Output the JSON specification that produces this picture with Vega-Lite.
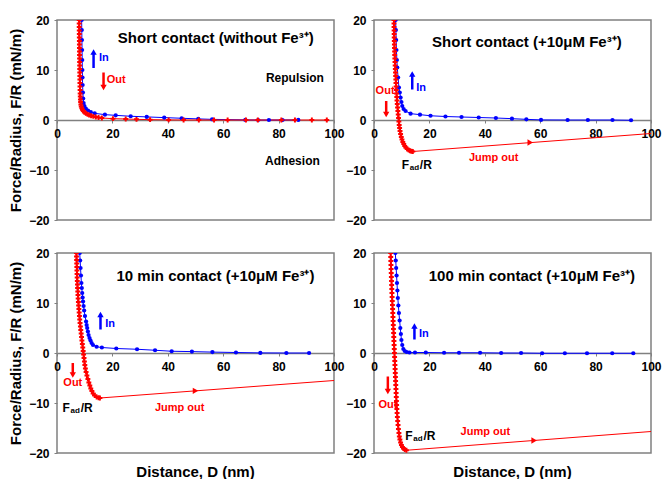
{
"$schema": "https://vega.github.io/schema/vega-lite/v6.json",
"padding": {"left": 7, "top": 13, "right": 2, "bottom": 0},
"background": "white",
"config": {
  "font": "Liberation Sans",
  "view": {"stroke": "#808080", "strokeWidth": 1.5},
  "text": {"font": "Liberation Sans", "fontWeight": "bold", "align": "center", "baseline": "middle"},
  "axis": {"labelFont": "Liberation Sans", "labelFontWeight": "bold", "labelFontSize": 12, "labelColor": "black", "grid": false, "domainColor": "#808080", "tickColor": "#808080", "titleFont": "Liberation Sans", "titleFontWeight": "bold", "titleFontSize": 15, "titleColor": "black", "labelFlush": false, "tickSize": 3, "labelPadding": 5}
},
"datasets": {
  "curves": [
    {"p":"p1","s":"In","D":8.9,"F":20},{"p":"p1","s":"In","D":8.95,"F":18},{"p":"p1","s":"In","D":9.0,"F":16},{"p":"p1","s":"In","D":9.05,"F":14},{"p":"p1","s":"In","D":9.1,"F":12},{"p":"p1","s":"In","D":9.15,"F":10},{"p":"p1","s":"In","D":9.2,"F":8.5},{"p":"p1","s":"In","D":9.25,"F":7},{"p":"p1","s":"In","D":9.35,"F":5.5},{"p":"p1","s":"In","D":9.45,"F":4.3},{"p":"p1","s":"In","D":9.6,"F":3.4},{"p":"p1","s":"In","D":9.9,"F":2.8},{"p":"p1","s":"In","D":10.4,"F":2.3},{"p":"p1","s":"In","D":11.2,"F":1.9},{"p":"p1","s":"In","D":12.2,"F":1.6},{"p":"p1","s":"In","D":13.6,"F":1.33},{"p":"p1","s":"In","D":17.3,"F":1.07},{"p":"p1","s":"In","D":21.2,"F":0.93},{"p":"p1","s":"In","D":26.6,"F":0.75},{"p":"p1","s":"In","D":32.4,"F":0.62},{"p":"p1","s":"In","D":38.7,"F":0.48},{"p":"p1","s":"In","D":45,"F":0.35},{"p":"p1","s":"In","D":51,"F":0.22},{"p":"p1","s":"In","D":56,"F":0.13},{"p":"p1","s":"In","D":68,"F":0.02},{"p":"p1","s":"In","D":72.6,"F":0},{"p":"p1","s":"In","D":76.5,"F":0},{"p":"p1","s":"In","D":81.4,"F":0},{"p":"p1","s":"In","D":87.1,"F":0.02},
    {"p":"p1","s":"Out","D":8.0,"F":20},{"p":"p1","s":"Out","D":8.01,"F":19.3},{"p":"p1","s":"Out","D":8.02,"F":18.6},{"p":"p1","s":"Out","D":8.03,"F":17.9},{"p":"p1","s":"Out","D":8.05,"F":17.2},{"p":"p1","s":"Out","D":8.06,"F":16.5},{"p":"p1","s":"Out","D":8.08,"F":15.8},{"p":"p1","s":"Out","D":8.09,"F":15.1},{"p":"p1","s":"Out","D":8.1,"F":14.4},{"p":"p1","s":"Out","D":8.12,"F":13.7},{"p":"p1","s":"Out","D":8.13,"F":13},{"p":"p1","s":"Out","D":8.15,"F":12.3},{"p":"p1","s":"Out","D":8.17,"F":11.6},{"p":"p1","s":"Out","D":8.18,"F":10.9},{"p":"p1","s":"Out","D":8.2,"F":10.2},{"p":"p1","s":"Out","D":8.22,"F":9.5},{"p":"p1","s":"Out","D":8.24,"F":8.8},{"p":"p1","s":"Out","D":8.26,"F":8.1},{"p":"p1","s":"Out","D":8.28,"F":7.4},{"p":"p1","s":"Out","D":8.3,"F":6.7},{"p":"p1","s":"Out","D":8.33,"F":6},{"p":"p1","s":"Out","D":8.36,"F":5.3},{"p":"p1","s":"Out","D":8.4,"F":4.7},{"p":"p1","s":"Out","D":8.45,"F":4.1},{"p":"p1","s":"Out","D":8.52,"F":3.6},{"p":"p1","s":"Out","D":8.62,"F":3.1},{"p":"p1","s":"Out","D":8.75,"F":2.7},{"p":"p1","s":"Out","D":8.95,"F":2.35},{"p":"p1","s":"Out","D":9.2,"F":2.05},{"p":"p1","s":"Out","D":9.5,"F":1.8},{"p":"p1","s":"Out","D":9.9,"F":1.55},{"p":"p1","s":"Out","D":10.4,"F":1.35},{"p":"p1","s":"Out","D":11,"F":1.15},{"p":"p1","s":"Out","D":11.6,"F":1},{"p":"p1","s":"Out","D":12.3,"F":0.85},{"p":"p1","s":"Out","D":13.1,"F":0.72},{"p":"p1","s":"Out","D":14,"F":0.6},{"p":"p1","s":"Out","D":15,"F":0.5},{"p":"p1","s":"Out","D":16.2,"F":0.4},{"p":"p1","s":"Out","D":20.2,"F":0.27},{"p":"p1","s":"Out","D":24.8,"F":0.2},{"p":"p1","s":"Out","D":28.7,"F":0.13},{"p":"p1","s":"Out","D":33.6,"F":0.07},{"p":"p1","s":"Out","D":40.3,"F":0.02},{"p":"p1","s":"Out","D":45.7,"F":0},{"p":"p1","s":"Out","D":51.2,"F":0},{"p":"p1","s":"Out","D":56.7,"F":0},{"p":"p1","s":"Out","D":61.6,"F":0},{"p":"p1","s":"Out","D":68.2,"F":0},{"p":"p1","s":"Out","D":72.5,"F":0},{"p":"p1","s":"Out","D":81,"F":0},{"p":"p1","s":"Out","D":85.9,"F":0},{"p":"p1","s":"Out","D":92,"F":0},{"p":"p1","s":"Out","D":97.4,"F":0},
    {"p":"p2","s":"In","D":7.8,"F":20},{"p":"p2","s":"In","D":7.9,"F":18},{"p":"p2","s":"In","D":8.0,"F":16},{"p":"p2","s":"In","D":8.1,"F":14},{"p":"p2","s":"In","D":8.25,"F":12},{"p":"p2","s":"In","D":8.4,"F":10.5},{"p":"p2","s":"In","D":8.7,"F":8.5},{"p":"p2","s":"In","D":9.0,"F":6.5},{"p":"p2","s":"In","D":9.3,"F":5.5},{"p":"p2","s":"In","D":9.6,"F":4.5},{"p":"p2","s":"In","D":9.9,"F":3.6},{"p":"p2","s":"In","D":10.2,"F":2.8},{"p":"p2","s":"In","D":10.7,"F":2.2},{"p":"p2","s":"In","D":11.4,"F":1.8},{"p":"p2","s":"In","D":13.2,"F":1.27},{"p":"p2","s":"In","D":16.6,"F":1.07},{"p":"p2","s":"In","D":20.4,"F":0.85},{"p":"p2","s":"In","D":25.8,"F":0.7},{"p":"p2","s":"In","D":31.6,"F":0.6},{"p":"p2","s":"In","D":37.8,"F":0.5},{"p":"p2","s":"In","D":44,"F":0.4},{"p":"p2","s":"In","D":49.8,"F":0.27},{"p":"p2","s":"In","D":55,"F":0.13},{"p":"p2","s":"In","D":60.3,"F":0.02},{"p":"p2","s":"In","D":69.9,"F":0},{"p":"p2","s":"In","D":77.2,"F":0},{"p":"p2","s":"In","D":86.1,"F":0},{"p":"p2","s":"In","D":92.8,"F":-0.05},
    {"p":"p2","s":"Out","D":7.2,"F":20},{"p":"p2","s":"Out","D":7.22,"F":19.3},{"p":"p2","s":"Out","D":7.24,"F":18.6},{"p":"p2","s":"Out","D":7.26,"F":17.9},{"p":"p2","s":"Out","D":7.28,"F":17.2},{"p":"p2","s":"Out","D":7.3,"F":16.5},{"p":"p2","s":"Out","D":7.33,"F":15.8},{"p":"p2","s":"Out","D":7.36,"F":15.1},{"p":"p2","s":"Out","D":7.4,"F":14.4},{"p":"p2","s":"Out","D":7.44,"F":13.7},{"p":"p2","s":"Out","D":7.48,"F":13},{"p":"p2","s":"Out","D":7.53,"F":12.3},{"p":"p2","s":"Out","D":7.58,"F":11.6},{"p":"p2","s":"Out","D":7.64,"F":10.9},{"p":"p2","s":"Out","D":7.7,"F":10.2},{"p":"p2","s":"Out","D":7.76,"F":9.5},{"p":"p2","s":"Out","D":7.82,"F":8.8},{"p":"p2","s":"Out","D":7.88,"F":8.1},{"p":"p2","s":"Out","D":7.94,"F":7.4},{"p":"p2","s":"Out","D":8.0,"F":6.7},{"p":"p2","s":"Out","D":8.07,"F":6},{"p":"p2","s":"Out","D":8.14,"F":5.3},{"p":"p2","s":"Out","D":8.22,"F":4.6},{"p":"p2","s":"Out","D":8.3,"F":3.9},{"p":"p2","s":"Out","D":8.4,"F":3.2},{"p":"p2","s":"Out","D":8.5,"F":2.5},{"p":"p2","s":"Out","D":8.62,"F":1.8},{"p":"p2","s":"Out","D":8.74,"F":1.1},{"p":"p2","s":"Out","D":8.86,"F":0.4},{"p":"p2","s":"Out","D":8.98,"F":-0.3},{"p":"p2","s":"Out","D":9.1,"F":-1},{"p":"p2","s":"Out","D":9.25,"F":-1.6},{"p":"p2","s":"Out","D":9.4,"F":-2.2},{"p":"p2","s":"Out","D":9.6,"F":-2.8},{"p":"p2","s":"Out","D":9.85,"F":-3.4},{"p":"p2","s":"Out","D":10.1,"F":-3.9},{"p":"p2","s":"Out","D":10.4,"F":-4.4},{"p":"p2","s":"Out","D":10.75,"F":-4.8},{"p":"p2","s":"Out","D":11.1,"F":-5.2},{"p":"p2","s":"Out","D":11.5,"F":-5.5},{"p":"p2","s":"Out","D":12,"F":-5.8},{"p":"p2","s":"Out","D":12.5,"F":-6},{"p":"p2","s":"Out","D":13,"F":-6.15},{"p":"p2","s":"Out","D":13.5,"F":-6.25},{"p":"p2","s":"Out","D":14,"F":-6.3},
    {"p":"p3","s":"In","D":8.2,"F":20},{"p":"p3","s":"In","D":8.35,"F":18.5},{"p":"p3","s":"In","D":8.5,"F":17},{"p":"p3","s":"In","D":8.65,"F":15.5},{"p":"p3","s":"In","D":8.8,"F":14},{"p":"p3","s":"In","D":8.95,"F":13},{"p":"p3","s":"In","D":9.1,"F":12},{"p":"p3","s":"In","D":9.25,"F":11.1},{"p":"p3","s":"In","D":9.4,"F":10.3},{"p":"p3","s":"In","D":9.6,"F":9.4},{"p":"p3","s":"In","D":9.8,"F":8.5},{"p":"p3","s":"In","D":10.1,"F":7.4},{"p":"p3","s":"In","D":10.5,"F":6.3},{"p":"p3","s":"In","D":10.7,"F":5.6},{"p":"p3","s":"In","D":10.9,"F":5},{"p":"p3","s":"In","D":11.15,"F":4.3},{"p":"p3","s":"In","D":11.4,"F":3.6},{"p":"p3","s":"In","D":11.75,"F":3},{"p":"p3","s":"In","D":12.1,"F":2.5},{"p":"p3","s":"In","D":12.5,"F":2},{"p":"p3","s":"In","D":13,"F":1.6},{"p":"p3","s":"In","D":14.3,"F":1.25},{"p":"p3","s":"In","D":16.2,"F":1.1},{"p":"p3","s":"In","D":21.4,"F":0.9},{"p":"p3","s":"In","D":28.9,"F":0.75},{"p":"p3","s":"In","D":35.4,"F":0.55},{"p":"p3","s":"In","D":41.4,"F":0.35},{"p":"p3","s":"In","D":48.7,"F":0.28},{"p":"p3","s":"In","D":56.1,"F":0.18},{"p":"p3","s":"In","D":64.6,"F":0.1},{"p":"p3","s":"In","D":73.4,"F":0.02},{"p":"p3","s":"In","D":82.8,"F":0},{"p":"p3","s":"In","D":91,"F":0},
    {"p":"p3","s":"Out","D":7.0,"F":20},{"p":"p3","s":"Out","D":7.04,"F":19.3},{"p":"p3","s":"Out","D":7.08,"F":18.6},{"p":"p3","s":"Out","D":7.12,"F":17.9},{"p":"p3","s":"Out","D":7.16,"F":17.2},{"p":"p3","s":"Out","D":7.2,"F":16.5},{"p":"p3","s":"Out","D":7.24,"F":15.8},{"p":"p3","s":"Out","D":7.28,"F":15.1},{"p":"p3","s":"Out","D":7.33,"F":14.4},{"p":"p3","s":"Out","D":7.38,"F":13.7},{"p":"p3","s":"Out","D":7.43,"F":13},{"p":"p3","s":"Out","D":7.5,"F":12.3},{"p":"p3","s":"Out","D":7.57,"F":11.6},{"p":"p3","s":"Out","D":7.64,"F":10.9},{"p":"p3","s":"Out","D":7.72,"F":10.2},{"p":"p3","s":"Out","D":7.8,"F":9.5},{"p":"p3","s":"Out","D":7.9,"F":8.8},{"p":"p3","s":"Out","D":8.0,"F":8.1},{"p":"p3","s":"Out","D":8.1,"F":7.4},{"p":"p3","s":"Out","D":8.2,"F":6.7},{"p":"p3","s":"Out","D":8.32,"F":6},{"p":"p3","s":"Out","D":8.45,"F":5.3},{"p":"p3","s":"Out","D":8.58,"F":4.6},{"p":"p3","s":"Out","D":8.72,"F":3.9},{"p":"p3","s":"Out","D":8.86,"F":3.2},{"p":"p3","s":"Out","D":9.0,"F":2.5},{"p":"p3","s":"Out","D":9.15,"F":1.8},{"p":"p3","s":"Out","D":9.3,"F":1.1},{"p":"p3","s":"Out","D":9.45,"F":0.4},{"p":"p3","s":"Out","D":9.6,"F":-0.3},{"p":"p3","s":"Out","D":9.75,"F":-1},{"p":"p3","s":"Out","D":9.9,"F":-1.7},{"p":"p3","s":"Out","D":10.05,"F":-2.4},{"p":"p3","s":"Out","D":10.25,"F":-3.1},{"p":"p3","s":"Out","D":10.5,"F":-3.8},{"p":"p3","s":"Out","D":10.8,"F":-4.5},{"p":"p3","s":"Out","D":11.15,"F":-5.2},{"p":"p3","s":"Out","D":11.5,"F":-5.9},{"p":"p3","s":"Out","D":11.85,"F":-6.5},{"p":"p3","s":"Out","D":12.2,"F":-7.1},{"p":"p3","s":"Out","D":12.6,"F":-7.6},{"p":"p3","s":"Out","D":13.05,"F":-8.1},{"p":"p3","s":"Out","D":13.6,"F":-8.5},{"p":"p3","s":"Out","D":14.3,"F":-8.8},{"p":"p3","s":"Out","D":15,"F":-8.95},{"p":"p3","s":"Out","D":15.5,"F":-9},
    {"p":"p4","s":"In","D":7.7,"F":20},{"p":"p4","s":"In","D":7.85,"F":18.5},{"p":"p4","s":"In","D":8.0,"F":17},{"p":"p4","s":"In","D":8.15,"F":15.5},{"p":"p4","s":"In","D":8.3,"F":14},{"p":"p4","s":"In","D":8.45,"F":12.5},{"p":"p4","s":"In","D":8.6,"F":11},{"p":"p4","s":"In","D":8.8,"F":9.5},{"p":"p4","s":"In","D":9.0,"F":8},{"p":"p4","s":"In","D":9.25,"F":6.5},{"p":"p4","s":"In","D":9.5,"F":5},{"p":"p4","s":"In","D":9.7,"F":3.8},{"p":"p4","s":"In","D":9.9,"F":2.6},{"p":"p4","s":"In","D":10.2,"F":1.6},{"p":"p4","s":"In","D":10.6,"F":0.8},{"p":"p4","s":"In","D":11.1,"F":0.4},{"p":"p4","s":"In","D":11.8,"F":0.2},{"p":"p4","s":"In","D":12.8,"F":0.1},{"p":"p4","s":"In","D":14.8,"F":0.1},{"p":"p4","s":"In","D":18.7,"F":0.1},{"p":"p4","s":"In","D":25.3,"F":0.05},{"p":"p4","s":"In","D":30.7,"F":0.05},{"p":"p4","s":"In","D":38.3,"F":0.05},{"p":"p4","s":"In","D":45.9,"F":0},{"p":"p4","s":"In","D":53.1,"F":0},{"p":"p4","s":"In","D":60.7,"F":-0.05},{"p":"p4","s":"In","D":68.9,"F":-0.05},{"p":"p4","s":"In","D":76.9,"F":-0.05},{"p":"p4","s":"In","D":86,"F":-0.05},{"p":"p4","s":"In","D":93.6,"F":-0.05},
    {"p":"p4","s":"Out","D":6.0,"F":20},{"p":"p4","s":"Out","D":6.04,"F":19.2},{"p":"p4","s":"Out","D":6.08,"F":18.4},{"p":"p4","s":"Out","D":6.12,"F":17.6},{"p":"p4","s":"Out","D":6.17,"F":16.8},{"p":"p4","s":"Out","D":6.22,"F":16},{"p":"p4","s":"Out","D":6.27,"F":15.2},{"p":"p4","s":"Out","D":6.32,"F":14.4},{"p":"p4","s":"Out","D":6.37,"F":13.6},{"p":"p4","s":"Out","D":6.42,"F":12.8},{"p":"p4","s":"Out","D":6.48,"F":12},{"p":"p4","s":"Out","D":6.54,"F":11.2},{"p":"p4","s":"Out","D":6.6,"F":10.4},{"p":"p4","s":"Out","D":6.66,"F":9.6},{"p":"p4","s":"Out","D":6.72,"F":8.8},{"p":"p4","s":"Out","D":6.78,"F":8},{"p":"p4","s":"Out","D":6.84,"F":7.2},{"p":"p4","s":"Out","D":6.9,"F":6.4},{"p":"p4","s":"Out","D":6.96,"F":5.6},{"p":"p4","s":"Out","D":7.02,"F":4.8},{"p":"p4","s":"Out","D":7.08,"F":4},{"p":"p4","s":"Out","D":7.14,"F":3.2},{"p":"p4","s":"Out","D":7.2,"F":2.4},{"p":"p4","s":"Out","D":7.26,"F":1.6},{"p":"p4","s":"Out","D":7.32,"F":0.8},{"p":"p4","s":"Out","D":7.38,"F":0},{"p":"p4","s":"Out","D":7.44,"F":-0.8},{"p":"p4","s":"Out","D":7.5,"F":-1.6},{"p":"p4","s":"Out","D":7.56,"F":-2.4},{"p":"p4","s":"Out","D":7.62,"F":-3.2},{"p":"p4","s":"Out","D":7.68,"F":-4},{"p":"p4","s":"Out","D":7.74,"F":-4.8},{"p":"p4","s":"Out","D":7.8,"F":-5.6},{"p":"p4","s":"Out","D":7.86,"F":-6.4},{"p":"p4","s":"Out","D":7.92,"F":-7.2},{"p":"p4","s":"Out","D":7.98,"F":-8},{"p":"p4","s":"Out","D":8.04,"F":-8.8},{"p":"p4","s":"Out","D":8.1,"F":-9.6},{"p":"p4","s":"Out","D":8.17,"F":-10.4},{"p":"p4","s":"Out","D":8.25,"F":-11.2},{"p":"p4","s":"Out","D":8.34,"F":-12},{"p":"p4","s":"Out","D":8.44,"F":-12.8},{"p":"p4","s":"Out","D":8.55,"F":-13.6},{"p":"p4","s":"Out","D":8.68,"F":-14.4},{"p":"p4","s":"Out","D":8.82,"F":-15.2},{"p":"p4","s":"Out","D":9.0,"F":-16},{"p":"p4","s":"Out","D":9.15,"F":-16.7},{"p":"p4","s":"Out","D":9.35,"F":-17.3},{"p":"p4","s":"Out","D":9.6,"F":-17.9},{"p":"p4","s":"Out","D":9.9,"F":-18.4},{"p":"p4","s":"Out","D":10.25,"F":-18.8},{"p":"p4","s":"Out","D":10.65,"F":-19.1},{"p":"p4","s":"Out","D":11.1,"F":-19.3},{"p":"p4","s":"Out","D":11.7,"F":-19.45}
  ],
  "jump": [
    {"p":"p2","D":14,"F":-6.3},{"p":"p2","D":100,"F":-2.7},
    {"p":"p3","D":15.5,"F":-9},{"p":"p3","D":100,"F":-5.5},
    {"p":"p4","D":11.7,"F":-19.45},{"p":"p4","D":100,"F":-15.7}
  ],
  "jumphead": [
    {"p":"p2","D":56.4,"F":-4.5},{"p":"p3","D":50,"F":-7.57},{"p":"p4","D":57.8,"F":-17.5}
  ],
  "arrows": [
    {"p":"p1","s":"In","D":13.2,"F":13.6,"F2":10.4},{"p":"p1","s":"Out","D":16.8,"F":6.5,"F2":9.5},
    {"p":"p2","s":"In","D":13.8,"F":9.2,"F2":6.1},{"p":"p2","s":"Out","D":4.4,"F":1.1,"F2":3.8},
    {"p":"p3","s":"In","D":15.7,"F":7.7,"F2":4.7},{"p":"p3","s":"Out","D":5.7,"F":-4.4,"F2":-2},
    {"p":"p4","s":"In","D":14.6,"F":5.4,"F2":2.7},{"p":"p4","s":"Out","D":5,"F":-7.7,"F2":-4.7}
  ],
  "labels": [
    {"p":"p1","k":"title","t":"Short contact (without Fe³⁺)","D":57.3,"F":16.5},
    {"p":"p1","k":"In","t":"In","D":16.9,"F":12.4},
    {"p":"p1","k":"Out","t":"Out","D":21.4,"F":8.1},
    {"p":"p1","k":"label","t":"Repulsion","D":85.9,"F":8.5},
    {"p":"p1","k":"label","t":"Adhesion","D":85,"F":-8.2},
    {"p":"p2","k":"title","t":"Short contact (+10μM Fe³⁺)","D":55.2,"F":15.7},
    {"p":"p2","k":"In","t":"In","D":17,"F":6.5},
    {"p":"p2","k":"Out","t":"Out","D":4,"F":5.9},
    {"p":"p2","k":"label","t":"F","D":11.3,"F":-8.9},
    {"p":"p2","k":"sub","t":"ad","D":14.6,"F":-9.5},
    {"p":"p2","k":"label","t":"/R","D":18.7,"F":-8.9},
    {"p":"p2","k":"Out","t":"Jump out","D":43.2,"F":-7.5},
    {"p":"p3","k":"title","t":"10 min contact (+10μM Fe³⁺)","D":57.2,"F":15.5},
    {"p":"p3","k":"In","t":"In","D":19.2,"F":5.8},
    {"p":"p3","k":"Out","t":"Out","D":5.7,"F":-6},
    {"p":"p3","k":"label","t":"F","D":3.3,"F":-11},
    {"p":"p3","k":"sub","t":"ad","D":6.6,"F":-11.6},
    {"p":"p3","k":"label","t":"/R","D":10.7,"F":-11},
    {"p":"p3","k":"Out","t":"Jump out","D":44.3,"F":-11},
    {"p":"p4","k":"title","t":"100 min contact (+10μM Fe³⁺)","D":57,"F":15.5},
    {"p":"p4","k":"In","t":"In","D":18,"F":3.9},
    {"p":"p4","k":"Out","t":"Out","D":5,"F":-10.3},
    {"p":"p4","k":"label","t":"F","D":12.6,"F":-16.5},
    {"p":"p4","k":"sub","t":"ad","D":15.9,"F":-17.1},
    {"p":"p4","k":"label","t":"/R","D":20,"F":-16.5},
    {"p":"p4","k":"Out","t":"Jump out","D":40.2,"F":-15.7}
  ]
},
"columns": 2,
"spacing": {"row": 33, "column": 40},
"bounds": "flush",
"concat": [
  {
    "width": 277, "height": 200,
    "encoding": {
      "x": {"field": "D", "type": "quantitative", "scale": {"domain": [0, 100], "nice": false, "zero": false}, "axis": {"values": [0, 20, 40, 60, 80, 100], "offset": -100, "title": null, "domainWidth": 1.5}},
      "y": {"field": "F", "type": "quantitative", "scale": {"domain": [-20, 20], "nice": false}, "axis": {"values": [-20, -10, 0, 10, 20], "domain": false, "title": "Force/Radius, F/R (mN/m)", "titlePadding": 5}}
    },
    "layer": [
      {"data": {"name": "curves"}, "transform": [{"filter": "datum.p==='p1'"}], "mark": {"type": "line", "strokeWidth": 1, "clip": true}, "encoding": {"color": {"field": "s", "type": "nominal", "scale": {"domain": ["In", "Out"], "range": ["#0000ff", "#ff0000"]}, "legend": null}}},
      {"data": {"name": "curves"}, "transform": [{"filter": "datum.p==='p1' && datum.s==='In'"}], "mark": {"type": "point", "shape": "circle", "filled": true, "size": 18, "color": "#0000ff", "opacity": 1, "clip": true}, "encoding": {}},
      {"data": {"name": "curves"}, "transform": [{"filter": "datum.p==='p1' && datum.s==='Out'"}], "mark": {"type": "point", "shape": "cross", "filled": true, "size": 24, "color": "#ff0000", "opacity": 1, "clip": true}, "encoding": {}},
      {"data": {"name": "arrows"}, "transform": [{"filter": "datum.p==='p1'"}], "mark": {"type": "rule", "strokeWidth": 2.5}, "encoding": {"y2": {"field": "F2"}, "color": {"field": "s", "type": "nominal", "scale": {"domain": ["In", "Out"], "range": ["#0000ff", "#ff0000"]}, "legend": null}}},
      {"data": {"name": "arrows"}, "transform": [{"filter": "datum.p==='p1'"}], "mark": {"type": "point", "filled": true, "size": 40, "opacity": 1}, "encoding": {"shape": {"field": "s", "type": "nominal", "scale": {"domain": ["In", "Out"], "range": ["triangle-up", "triangle-down"]}, "legend": null}, "color": {"field": "s", "type": "nominal", "scale": {"domain": ["In", "Out"], "range": ["#0000ff", "#ff0000"]}, "legend": null}}},
      {"data": {"name": "labels"}, "transform": [{"filter": "datum.p==='p1' && datum.k==='title'"}], "mark": {"type": "text", "fontSize": 15, "color": "#000000"}, "encoding": {"text": {"field": "t"}}},
      {"data": {"name": "labels"}, "transform": [{"filter": "datum.p==='p1' && datum.k==='label'"}], "mark": {"type": "text", "fontSize": 12, "color": "#000000"}, "encoding": {"text": {"field": "t"}}},
      {"data": {"name": "labels"}, "transform": [{"filter": "datum.p==='p1' && (datum.k==='In' || datum.k==='Out')"}], "mark": {"type": "text", "fontSize": 11}, "encoding": {"text": {"field": "t"}, "color": {"field": "k", "type": "nominal", "scale": {"domain": ["In", "Out"], "range": ["#0000ff", "#ff0000"]}, "legend": null}}}
    ]
  },
  {
    "width": 277, "height": 200,
    "encoding": {
      "x": {"field": "D", "type": "quantitative", "scale": {"domain": [0, 100], "nice": false, "zero": false}, "axis": {"values": [0, 20, 40, 60, 80, 100], "offset": -100, "title": null, "domainWidth": 1.5}},
      "y": {"field": "F", "type": "quantitative", "scale": {"domain": [-20, 20], "nice": false}, "axis": {"values": [-20, -10, 0, 10, 20], "domain": false, "title": null}}
    },
    "layer": [
      {"data": {"name": "curves"}, "transform": [{"filter": "datum.p==='p2'"}], "mark": {"type": "line", "strokeWidth": 1, "clip": true}, "encoding": {"color": {"field": "s", "type": "nominal", "scale": {"domain": ["In", "Out"], "range": ["#0000ff", "#ff0000"]}, "legend": null}}},
      {"data": {"name": "curves"}, "transform": [{"filter": "datum.p==='p2' && datum.s==='In'"}], "mark": {"type": "point", "shape": "circle", "filled": true, "size": 18, "color": "#0000ff", "opacity": 1, "clip": true}, "encoding": {}},
      {"data": {"name": "curves"}, "transform": [{"filter": "datum.p==='p2' && datum.s==='Out'"}], "mark": {"type": "point", "shape": "cross", "filled": true, "size": 24, "color": "#ff0000", "opacity": 1, "clip": true}, "encoding": {}},
      {"data": {"name": "jump"}, "transform": [{"filter": "datum.p==='p2'"}], "mark": {"type": "line", "strokeWidth": 1, "color": "#ff0000", "clip": true}, "encoding": {}},
      {"data": {"name": "jumphead"}, "transform": [{"filter": "datum.p==='p2'"}], "mark": {"type": "point", "shape": "triangle-right", "filled": true, "size": 40, "color": "#ff0000", "opacity": 1}, "encoding": {}},
      {"data": {"name": "arrows"}, "transform": [{"filter": "datum.p==='p2'"}], "mark": {"type": "rule", "strokeWidth": 2.5}, "encoding": {"y2": {"field": "F2"}, "color": {"field": "s", "type": "nominal", "scale": {"domain": ["In", "Out"], "range": ["#0000ff", "#ff0000"]}, "legend": null}}},
      {"data": {"name": "arrows"}, "transform": [{"filter": "datum.p==='p2'"}], "mark": {"type": "point", "filled": true, "size": 40, "opacity": 1}, "encoding": {"shape": {"field": "s", "type": "nominal", "scale": {"domain": ["In", "Out"], "range": ["triangle-up", "triangle-down"]}, "legend": null}, "color": {"field": "s", "type": "nominal", "scale": {"domain": ["In", "Out"], "range": ["#0000ff", "#ff0000"]}, "legend": null}}},
      {"data": {"name": "labels"}, "transform": [{"filter": "datum.p==='p2' && datum.k==='title'"}], "mark": {"type": "text", "fontSize": 15, "color": "#000000"}, "encoding": {"text": {"field": "t"}}},
      {"data": {"name": "labels"}, "transform": [{"filter": "datum.p==='p2' && datum.k==='label'"}], "mark": {"type": "text", "fontSize": 12, "color": "#000000"}, "encoding": {"text": {"field": "t"}}},
      {"data": {"name": "labels"}, "transform": [{"filter": "datum.p==='p2' && datum.k==='sub'"}], "mark": {"type": "text", "fontSize": 8, "color": "#000000"}, "encoding": {"text": {"field": "t"}}},
      {"data": {"name": "labels"}, "transform": [{"filter": "datum.p==='p2' && (datum.k==='In' || datum.k==='Out')"}], "mark": {"type": "text", "fontSize": 11}, "encoding": {"text": {"field": "t"}, "color": {"field": "k", "type": "nominal", "scale": {"domain": ["In", "Out"], "range": ["#0000ff", "#ff0000"]}, "legend": null}}}
    ]
  },
  {
    "width": 277, "height": 200,
    "title": {"text": "Distance, D (nm)", "orient": "bottom", "anchor": "middle", "frame": "group", "fontSize": 15, "fontWeight": "bold", "font": "Liberation Sans", "color": "black", "offset": 6},
    "encoding": {
      "x": {"field": "D", "type": "quantitative", "scale": {"domain": [0, 100], "nice": false, "zero": false}, "axis": {"values": [0, 20, 40, 60, 80, 100], "offset": -100, "title": null, "domainWidth": 1.5}},
      "y": {"field": "F", "type": "quantitative", "scale": {"domain": [-20, 20], "nice": false}, "axis": {"values": [-20, -10, 0, 10, 20], "domain": false, "title": "Force/Radius, F/R (mN/m)", "titlePadding": 5}}
    },
    "layer": [
      {"data": {"name": "curves"}, "transform": [{"filter": "datum.p==='p3'"}], "mark": {"type": "line", "strokeWidth": 1, "clip": true}, "encoding": {"color": {"field": "s", "type": "nominal", "scale": {"domain": ["In", "Out"], "range": ["#0000ff", "#ff0000"]}, "legend": null}}},
      {"data": {"name": "curves"}, "transform": [{"filter": "datum.p==='p3' && datum.s==='In'"}], "mark": {"type": "point", "shape": "circle", "filled": true, "size": 18, "color": "#0000ff", "opacity": 1, "clip": true}, "encoding": {}},
      {"data": {"name": "curves"}, "transform": [{"filter": "datum.p==='p3' && datum.s==='Out'"}], "mark": {"type": "point", "shape": "cross", "filled": true, "size": 24, "color": "#ff0000", "opacity": 1, "clip": true}, "encoding": {}},
      {"data": {"name": "jump"}, "transform": [{"filter": "datum.p==='p3'"}], "mark": {"type": "line", "strokeWidth": 1, "color": "#ff0000", "clip": true}, "encoding": {}},
      {"data": {"name": "jumphead"}, "transform": [{"filter": "datum.p==='p3'"}], "mark": {"type": "point", "shape": "triangle-right", "filled": true, "size": 40, "color": "#ff0000", "opacity": 1}, "encoding": {}},
      {"data": {"name": "arrows"}, "transform": [{"filter": "datum.p==='p3'"}], "mark": {"type": "rule", "strokeWidth": 2.5}, "encoding": {"y2": {"field": "F2"}, "color": {"field": "s", "type": "nominal", "scale": {"domain": ["In", "Out"], "range": ["#0000ff", "#ff0000"]}, "legend": null}}},
      {"data": {"name": "arrows"}, "transform": [{"filter": "datum.p==='p3'"}], "mark": {"type": "point", "filled": true, "size": 40, "opacity": 1}, "encoding": {"shape": {"field": "s", "type": "nominal", "scale": {"domain": ["In", "Out"], "range": ["triangle-up", "triangle-down"]}, "legend": null}, "color": {"field": "s", "type": "nominal", "scale": {"domain": ["In", "Out"], "range": ["#0000ff", "#ff0000"]}, "legend": null}}},
      {"data": {"name": "labels"}, "transform": [{"filter": "datum.p==='p3' && datum.k==='title'"}], "mark": {"type": "text", "fontSize": 15, "color": "#000000"}, "encoding": {"text": {"field": "t"}}},
      {"data": {"name": "labels"}, "transform": [{"filter": "datum.p==='p3' && datum.k==='label'"}], "mark": {"type": "text", "fontSize": 12, "color": "#000000"}, "encoding": {"text": {"field": "t"}}},
      {"data": {"name": "labels"}, "transform": [{"filter": "datum.p==='p3' && datum.k==='sub'"}], "mark": {"type": "text", "fontSize": 8, "color": "#000000"}, "encoding": {"text": {"field": "t"}}},
      {"data": {"name": "labels"}, "transform": [{"filter": "datum.p==='p3' && (datum.k==='In' || datum.k==='Out')"}], "mark": {"type": "text", "fontSize": 11}, "encoding": {"text": {"field": "t"}, "color": {"field": "k", "type": "nominal", "scale": {"domain": ["In", "Out"], "range": ["#0000ff", "#ff0000"]}, "legend": null}}}
    ]
  },
  {
    "width": 277, "height": 200,
    "title": {"text": "Distance, D (nm)", "orient": "bottom", "anchor": "middle", "frame": "group", "fontSize": 15, "fontWeight": "bold", "font": "Liberation Sans", "color": "black", "offset": 6},
    "encoding": {
      "x": {"field": "D", "type": "quantitative", "scale": {"domain": [0, 100], "nice": false, "zero": false}, "axis": {"values": [0, 20, 40, 60, 80, 100], "offset": -100, "title": null, "domainWidth": 1.5}},
      "y": {"field": "F", "type": "quantitative", "scale": {"domain": [-20, 20], "nice": false}, "axis": {"values": [-20, -10, 0, 10, 20], "domain": false, "title": null}}
    },
    "layer": [
      {"data": {"name": "curves"}, "transform": [{"filter": "datum.p==='p4'"}], "mark": {"type": "line", "strokeWidth": 1, "clip": true}, "encoding": {"color": {"field": "s", "type": "nominal", "scale": {"domain": ["In", "Out"], "range": ["#0000ff", "#ff0000"]}, "legend": null}}},
      {"data": {"name": "curves"}, "transform": [{"filter": "datum.p==='p4' && datum.s==='In'"}], "mark": {"type": "point", "shape": "circle", "filled": true, "size": 18, "color": "#0000ff", "opacity": 1, "clip": true}, "encoding": {}},
      {"data": {"name": "curves"}, "transform": [{"filter": "datum.p==='p4' && datum.s==='Out'"}], "mark": {"type": "point", "shape": "cross", "filled": true, "size": 24, "color": "#ff0000", "opacity": 1, "clip": true}, "encoding": {}},
      {"data": {"name": "jump"}, "transform": [{"filter": "datum.p==='p4'"}], "mark": {"type": "line", "strokeWidth": 1, "color": "#ff0000", "clip": true}, "encoding": {}},
      {"data": {"name": "jumphead"}, "transform": [{"filter": "datum.p==='p4'"}], "mark": {"type": "point", "shape": "triangle-right", "filled": true, "size": 40, "color": "#ff0000", "opacity": 1}, "encoding": {}},
      {"data": {"name": "arrows"}, "transform": [{"filter": "datum.p==='p4'"}], "mark": {"type": "rule", "strokeWidth": 2.5}, "encoding": {"y2": {"field": "F2"}, "color": {"field": "s", "type": "nominal", "scale": {"domain": ["In", "Out"], "range": ["#0000ff", "#ff0000"]}, "legend": null}}},
      {"data": {"name": "arrows"}, "transform": [{"filter": "datum.p==='p4'"}], "mark": {"type": "point", "filled": true, "size": 40, "opacity": 1}, "encoding": {"shape": {"field": "s", "type": "nominal", "scale": {"domain": ["In", "Out"], "range": ["triangle-up", "triangle-down"]}, "legend": null}, "color": {"field": "s", "type": "nominal", "scale": {"domain": ["In", "Out"], "range": ["#0000ff", "#ff0000"]}, "legend": null}}},
      {"data": {"name": "labels"}, "transform": [{"filter": "datum.p==='p4' && datum.k==='title'"}], "mark": {"type": "text", "fontSize": 15, "color": "#000000"}, "encoding": {"text": {"field": "t"}}},
      {"data": {"name": "labels"}, "transform": [{"filter": "datum.p==='p4' && datum.k==='label'"}], "mark": {"type": "text", "fontSize": 12, "color": "#000000"}, "encoding": {"text": {"field": "t"}}},
      {"data": {"name": "labels"}, "transform": [{"filter": "datum.p==='p4' && datum.k==='sub'"}], "mark": {"type": "text", "fontSize": 8, "color": "#000000"}, "encoding": {"text": {"field": "t"}}},
      {"data": {"name": "labels"}, "transform": [{"filter": "datum.p==='p4' && (datum.k==='In' || datum.k==='Out')"}], "mark": {"type": "text", "fontSize": 11}, "encoding": {"text": {"field": "t"}, "color": {"field": "k", "type": "nominal", "scale": {"domain": ["In", "Out"], "range": ["#0000ff", "#ff0000"]}, "legend": null}}}
    ]
  }
]
}
